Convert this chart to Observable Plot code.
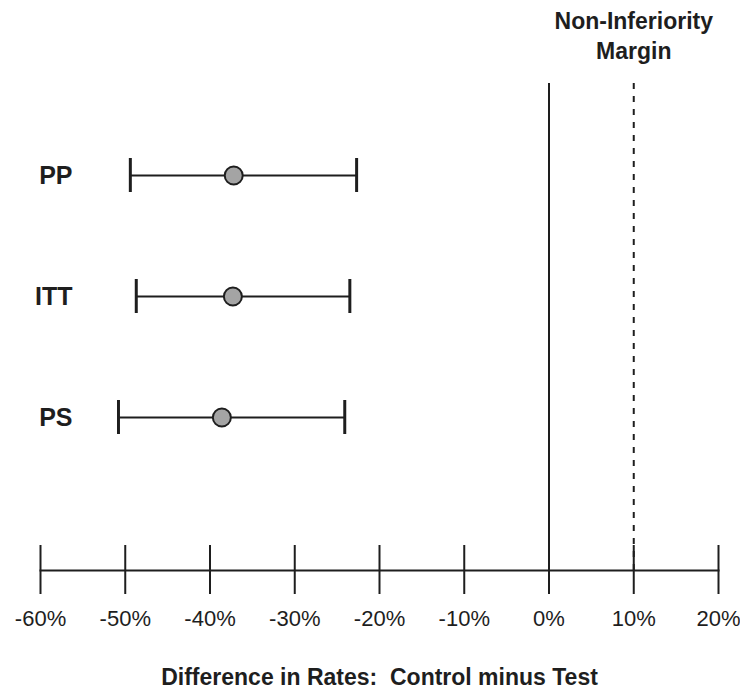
<!DOCTYPE html>
<html>
<head>
<meta charset="utf-8">
<script src="https://cdn.jsdelivr.net/npm/d3@7"></script>
<script src="https://cdn.jsdelivr.net/npm/@observablehq/plot@0.6"></script>
<style>
  html, body { margin: 0; padding: 0; background: white; }
</style>
</head>
<body>
<div id="chart"></div>
<script>
// Data
const labels   = ["PP", "ITT", "PS"];
const estimate = [-37.2, -37.3, -38.6];
const lower    = [-49.4, -48.7, -50.8];
const upper    = [-22.7, -23.5, -24.1];
const xTicks   = [-60, -50, -40, -30, -20, -10, 0, 10, 20];
const marginValue = 10;
const marginTitle = "Non-Inferiority\nMargin";
const axisTitle = "Difference in Rates:  Control minus Test";

const rows = labels.map((label, i) => ({label, est: estimate[i], lo: lower[i], hi: upper[i]}));
const ink = "#1e1e1e";

const chart = Plot.plot({
  width: 740,
  height: 692,
  marginLeft: 40,
  marginRight: 22,
  marginTop: 83,
  marginBottom: 122,
  style: {fontFamily: "'Liberation Sans', Arial, Helvetica, sans-serif", background: "white", color: ink},
  x: {domain: [-60, 20], axis: null},
  y: {type: "band", domain: labels, range: [157, 435], paddingInner: 0.721, paddingOuter: 0, axis: null},
  marks: [
    // axis baseline
    Plot.frame({anchor: "bottom", stroke: ink, strokeWidth: 2}),
    // axis ticks (above and below the baseline)
    Plot.ruleX(xTicks, {x: d => d, stroke: ink, strokeWidth: 2, insetTop: 462, insetBottom: -24}),
    // zero line
    Plot.ruleX([0], {x: d => d, stroke: ink, strokeWidth: 2, insetBottom: -24}),
    // non-inferiority margin
    Plot.ruleX([marginValue], {x: d => d, stroke: ink, strokeWidth: 2, strokeDasharray: "6,7"}),
    // tick labels
    Plot.text(xTicks, {x: d => d, text: d => `${d}%`, frameAnchor: "bottom", dy: 55, fontSize: 22, fill: ink, style: "letter-spacing:1px"}),
    // axis title
    Plot.text([axisTitle], {text: d => d, frameAnchor: "bottom", dy: 114, fontSize: 23, fontWeight: "bold", fill: ink}),
    // margin title
    Plot.text([marginTitle], {x: marginValue, text: d => d, frameAnchor: "top", dy: -76, fontSize: 23, lineHeight: 1.3, fontWeight: "bold", fill: ink, style: "letter-spacing:0.6px"}),
    // row labels
    Plot.text(rows, {y: "label", text: "label", frameAnchor: "left", textAnchor: "end", dx: 32, fontSize: 25, fontWeight: "bold", fill: ink}),
    // CI lines
    Plot.ruleY(rows, {y: "label", x1: "lo", x2: "hi", stroke: ink, strokeWidth: 2}),
    Plot.tickX(rows, {x: "lo", y: "label", stroke: ink, strokeWidth: 3}),
    Plot.tickX(rows, {x: "hi", y: "label", stroke: ink, strokeWidth: 3}),
    // point estimates
    Plot.dot(rows, {x: "est", y: "label", r: 9, fill: "#a4a4a4", stroke: ink, strokeWidth: 2})
  ]
});

document.getElementById("chart").appendChild(chart);
</script>
</body>
</html>
